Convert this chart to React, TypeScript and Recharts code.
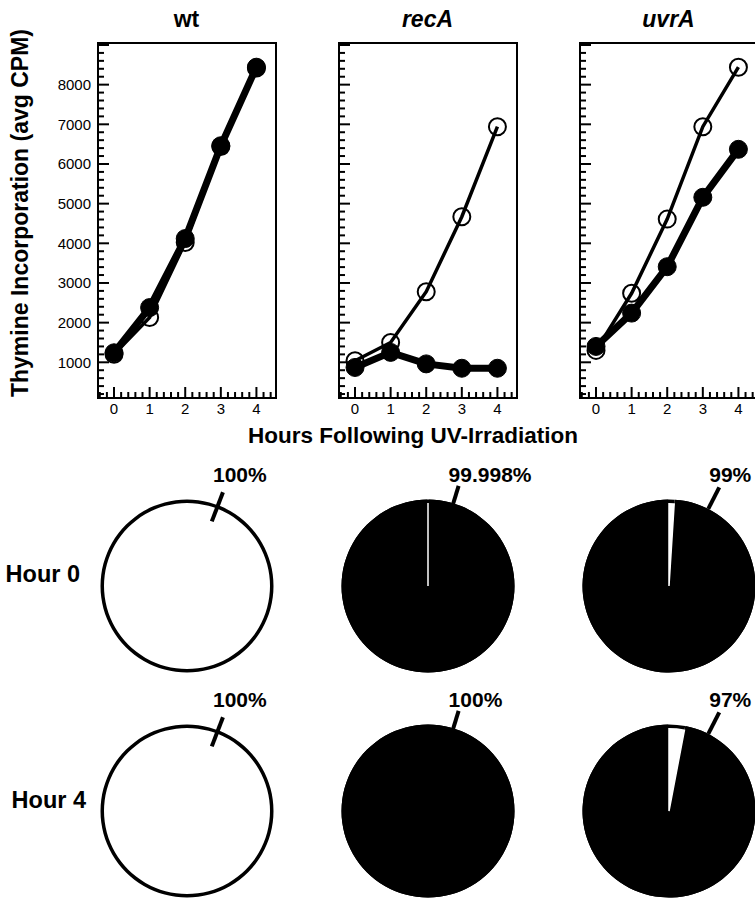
import React from "react";
import { LineChart, Line, XAxis, YAxis, ReferenceArea, PieChart, Pie, Cell } from "recharts";

// values (avg CPM)
const hours = [0, 1, 2, 3, 4];
const strains = ["wt", "recA", "uvrA"];

const wtFilled = [1240, 2380, 4120, 6460, 8440];
const wtOpen = [1200, 2130, 4020, 6440, 8420];
const recAFilled = [870, 1250, 960, 850, 850];
const recAOpen = [1040, 1500, 2780, 4670, 6940];
const uvrAFilled = [1400, 2240, 3410, 5160, 6370];
const uvrAOpen = [1300, 2740, 4610, 6940, 8440];

// pie values: percent black per strain
const hour0Black = [0, 99.998, 99];
const hour4Black = [0, 100, 97];
const hour0Labels = ["100%", "99.998%", "99%"];
const hour4Labels = ["100%", "100%", "97%"];
const rowLabels = ["Hour 0", "Hour 4"];

const yTicks = Array.from({ length: 45 }, (_, i) => 200 + i * 200);
const xTicks = Array.from({ length: 25 }, (_, i) => Math.round((-0.4 + i * 0.2) * 10) / 10);

const FONT = '"Liberation Sans", Arial, Helvetica, sans-serif';

const seriesFilled = [wtFilled, recAFilled, uvrAFilled];
const seriesOpen = [wtOpen, recAOpen, uvrAOpen];

const plotLefts = [98, 339, 580];
const plotCenters = [186.5, 427.5, 668.5];
const Y_AXIS_W = 60;
const PLOT_W = 178;

const YTick = (props: any) => {
  const { x, y, payload, showLabel } = props;
  const v = payload.value;
  const major = v % 1000 === 0;
  return (
    <g>
      <line x1={x} x2={x + (major ? 11 : 6)} y1={y} y2={y} stroke="#000" strokeWidth={2} />
      {major && showLabel && v <= 8000 && (
        <text x={x - 7} y={y} dy="0.36em" textAnchor="end" fontSize={15} fontFamily={FONT} fill="#000">
          {v}
        </text>
      )}
    </g>
  );
};

const XTick = (props: any) => {
  const { x, y, payload } = props;
  const v = payload.value;
  const major = Number.isInteger(v);
  return (
    <g>
      <line x1={x} x2={x} y1={y} y2={y - (major ? 11 : 6)} stroke="#000" strokeWidth={2} />
      {major && (
        <text x={x} y={y + 16} textAnchor="middle" fontSize={15} fontFamily={FONT} fill="#000">
          {v}
        </text>
      )}
    </g>
  );
};

const StrainPlot = ({ idx }: { idx: number }) => {
  const data = hours.map((h, i) => ({
    hour: h,
    filled: seriesFilled[idx][i],
    open: seriesOpen[idx][i],
  }));
  return (
    <div style={{ position: "absolute", left: plotLefts[idx] - Y_AXIS_W, top: 0 }}>
      <LineChart
        width={Y_AXIS_W + PLOT_W + 12}
        height={430}
        data={data}
        margin={{ top: 43, right: 12, bottom: 0, left: 0 }}
      >
        <XAxis
          type="number"
          dataKey="hour"
          domain={[-0.45, 4.55]}
          ticks={xTicks}
          interval={0}
          height={32}
          axisLine={false}
          tickLine={false}
          tickSize={0}
          tickMargin={0}
          tick={<XTick />}
        />
        <YAxis
          type="number"
          domain={[100, 9050]}
          ticks={yTicks}
          interval={0}
          width={Y_AXIS_W}
          axisLine={false}
          tickLine={false}
          tickSize={0}
          tickMargin={0}
          tick={<YTick showLabel={idx === 0} />}
        />
        <ReferenceArea x1={-0.45} x2={4.55} y1={100} y2={9050} fill="none" stroke="#000" strokeWidth={2} />
        <Line
          type="linear"
          dataKey="open"
          stroke="#000"
          strokeWidth={3.5}
          dot={{ r: 8.5, fill: "none", stroke: "#000", strokeWidth: 2 }}
          activeDot={false}
          isAnimationActive={false}
        />
        <Line
          type="linear"
          dataKey="filled"
          stroke="#000"
          strokeWidth={7}
          dot={{ r: 9, fill: "#000", stroke: "#000", strokeWidth: 1 }}
          activeDot={false}
          isAnimationActive={false}
        />
      </LineChart>
    </div>
  );
};

const R = 86.5;
const PC = 130;
const labelGeom = [
  { angle: 21, r0: 0.8, r1: 1.16 },
  { angle: 17, r0: 0.94, r1: 1.21 },
  { angle: 27, r0: 1.0, r1: 1.28 },
];

const FractionPie = ({ col, black, text, cy }: { col: number; black: number; text: string; cy: number }) => {
  // black first, drawn counter-clockwise, so the white slice ends at 12 o'clock on its right side
  const slices = [
    { name: "black", value: black },
    { name: "white", value: 100 - black },
  ];
  const labelIdx = slices[0].value >= slices[1].value ? 0 : 1;
  const g = labelGeom[col];
  const rad = (g.angle * Math.PI) / 180;
  const renderLabel = (props: any) => {
    if (props.index !== labelIdx) return null;
    const x0 = PC + R * g.r0 * Math.sin(rad);
    const y0 = PC - R * g.r0 * Math.cos(rad);
    const x1 = PC + R * g.r1 * Math.sin(rad);
    const y1 = PC - R * g.r1 * Math.cos(rad);
    return (
      <g>
        <line x1={x0} y1={y0} x2={x1} y2={y1} stroke="#000" strokeWidth={4} />
        <text x={x1 - 10} y={PC - 104} fontSize={21} fontWeight="bold" fontFamily={FONT} fill="#000">
          {text}
        </text>
      </g>
    );
  };
  return (
    <div style={{ position: "absolute", left: plotCenters[col] - PC, top: cy - PC }}>
      <PieChart width={PC * 2} height={PC * 2} margin={{ top: 0, right: 0, bottom: 0, left: 0 }}>
        <Pie
          data={slices}
          dataKey="value"
          cx={PC}
          cy={PC}
          outerRadius={R}
          startAngle={90}
          endAngle={450}
          label={renderLabel}
          labelLine={false}
          isAnimationActive={false}
        >
          {slices.map((s) => (
            <Cell
              key={s.name}
              fill={s.name === "white" ? "#fff" : "#000"}
              stroke={s.name === "white" ? "#fff" : "none"}
              strokeWidth={s.name === "white" ? 1.5 : 0}
            />
          ))}
        </Pie>
        <Pie
          data={slices}
          dataKey="value"
          cx={PC}
          cy={PC}
          innerRadius={R - 3.5}
          outerRadius={R}
          startAngle={90}
          endAngle={450}
          stroke="none"
          fill="#000"
          isAnimationActive={false}
        />
      </PieChart>
    </div>
  );
};

export default function App() {
  return (
    <div
      style={{
        position: "absolute",
        left: 0,
        top: 0,
        width: 755,
        height: 898,
        overflow: "hidden",
        background: "#fff",
        fontFamily: FONT,
      }}
    >
      {strains.map((s, i) => (
        <StrainPlot key={s} idx={i} />
      ))}
      {strains.map((s, i) => (
        <FractionPie key={"h0" + s} col={i} black={hour0Black[i]} text={hour0Labels[i]} cy={586} />
      ))}
      {strains.map((s, i) => (
        <FractionPie key={"h4" + s} col={i} black={hour4Black[i]} text={hour4Labels[i]} cy={811} />
      ))}
      <svg
        width={755}
        height={898}
        style={{ position: "absolute", left: 0, top: 0, pointerEvents: "none" }}
      >
        {strains.map((s, i) => (
          <text
            key={s}
            x={plotCenters[i]}
            y={27}
            textAnchor="middle"
            fontSize={23}
            fontWeight="bold"
            fontStyle={i === 0 ? "normal" : "italic"}
            fontFamily={FONT}
          >
            {s}
          </text>
        ))}
        <text x={413} y={443} textAnchor="middle" fontSize={22.5} fontWeight="bold" fontFamily={FONT}>
          Hours Following UV-Irradiation
        </text>
        <text
          transform="translate(28, 213) rotate(-90)"
          textAnchor="middle"
          fontSize={23}
          fontWeight="bold"
          fontFamily={FONT}
        >
          Thymine Incorporation (avg CPM)
        </text>
        <text x={80} y={582} textAnchor="end" fontSize={23.5} fontWeight="bold" fontFamily={FONT}>
          {rowLabels[0]}
        </text>
        <text x={86} y={808} textAnchor="end" fontSize={23.5} fontWeight="bold" fontFamily={FONT}>
          {rowLabels[1]}
        </text>
      </svg>
    </div>
  );
}
